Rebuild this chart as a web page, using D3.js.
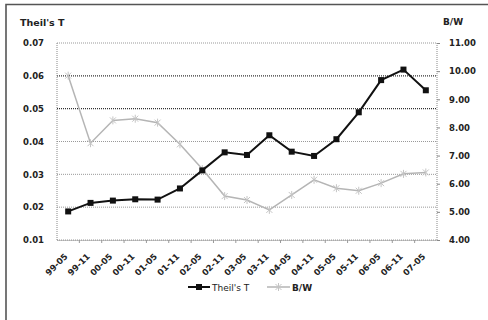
<!DOCTYPE html>
<html>
<head>
<meta charset="utf-8">
<script src="https://cdn.jsdelivr.net/npm/d3@7"></script>
<style>
  body { margin: 0; background: #fff; }
  svg { display: block; font-family: "DejaVu Sans", Verdana, sans-serif; }
</style>
</head>
<body>
<svg id="chart" width="488" height="320"></svg>
<script>
// Half-year periods
const periods = ["99-05","99-11","00-05","00-11","01-05","01-11","02-05","02-11","03-05",
                 "03-11","04-05","04-11","05-05","05-11","06-05","06-11","07-05"];
// Theil's T index (left axis)
const theilT = [0.0187, 0.0213, 0.0220, 0.0224, 0.0223, 0.0257, 0.0312, 0.0367, 0.0359,
                0.0419, 0.0369, 0.0356, 0.0407, 0.0489, 0.0587, 0.0619, 0.0556];
// B/W ratio (right axis)
const bwRatio = [9.84, 7.44, 8.25, 8.31, 8.17, 7.40, 6.52, 5.56, 5.42,
                 5.07, 5.60, 6.14, 5.84, 5.75, 6.02, 6.35, 6.40];
const leftTicks = [0.01, 0.02, 0.03, 0.04, 0.05, 0.06, 0.07];
const rightTicks = [4, 5, 6, 7, 8, 9, 10, 11];
const seriesNames = ["Theil's T", "B/W"];

const svg = d3.select("#chart");
const plot = { left: 57, right: 437, top: 43, bottom: 240 };

// outer frame (top and left edges)
svg.append("path")
  .attr("d", "M6,320 V4.5 H488")
  .attr("fill", "none").attr("stroke", "#555").attr("stroke-width", 1.6);

const x = d3.scaleBand().domain(periods).range([plot.left, plot.right]);
const yL = d3.scaleLinear().domain([0.01, 0.07]).range([plot.bottom, plot.top]);
const yR = d3.scaleLinear().domain([4, 11]).range([plot.bottom, plot.top]);

// horizontal gridlines
svg.append("g").selectAll("line").data(leftTicks).join("line")
  .attr("x1", plot.left).attr("x2", plot.right)
  .attr("y1", d => yL(d)).attr("y2", d => yL(d))
  .attr("stroke", d => (d === 0.05 || d === 0.06) ? "#333" : "#999")
  .attr("stroke-width", d => (d === 0.05 || d === 0.06) ? 1.2 : 1)
  .attr("stroke-dasharray", "1,1");

// plot area side edges
svg.append("g").selectAll("line").data([plot.left, plot.right]).join("line")
  .attr("x1", d => d).attr("x2", d => d)
  .attr("y1", plot.top).attr("y2", plot.bottom)
  .attr("stroke", "#888").attr("stroke-dasharray", "1,1");

// left axis
const leftAxis = svg.append("g")
  .attr("transform", `translate(${plot.left},0)`)
  .call(d3.axisLeft(yL).tickValues(leftTicks).tickFormat(d3.format(".2f")).tickSize(0).tickPadding(13));
leftAxis.select(".domain").remove();

// right axis
const rightAxis = svg.append("g")
  .attr("transform", `translate(${plot.right},0)`)
  .call(d3.axisRight(yR).tickValues(rightTicks).tickFormat(d3.format(".2f")).tickSize(3).tickPadding(9));
rightAxis.select(".domain").remove();
rightAxis.selectAll(".tick line").attr("stroke", "#888");

// bottom axis
const bottomAxis = svg.append("g")
  .attr("transform", `translate(0,${plot.bottom})`)
  .call(d3.axisBottom(x).tickSize(0).tickFormat(d => d));
bottomAxis.select(".domain").attr("stroke", "#888").attr("stroke-dasharray", "1,1");
bottomAxis.selectAll(".tick text")
  .attr("text-anchor", "end")
  .attr("dy", 0).attr("y", 0)
  .attr("transform", "translate(0,17) rotate(-45)");
// category separators on the bottom axis
svg.append("g").selectAll("line").data(periods.slice(1)).join("line")
  .attr("x1", d => x(d)).attr("x2", d => x(d))
  .attr("y1", plot.bottom).attr("y2", plot.bottom + 3)
  .attr("stroke", "#999");

svg.selectAll(".tick text")
  .attr("fill", "#222").attr("font-size", 8.5).attr("font-weight", "bold")
  .attr("font-family", "DejaVu Sans, Verdana, sans-serif");

// axis titles
svg.append("text").attr("x", 20).attr("y", 26).text("Theil's T")
  .attr("font-size", 9.5).attr("font-weight", "bold").attr("fill", "#222");
svg.append("text").attr("x", 443).attr("y", 25).text("B/W")
  .attr("font-size", 9).attr("font-weight", "bold").attr("fill", "#222");

const cx = d => x(d) + x.bandwidth() / 2;

// B/W series: light grey line with cross markers
svg.append("path")
  .datum(bwRatio)
  .attr("fill", "none").attr("stroke", "#b5b5b5").attr("stroke-width", 1.5)
  .attr("d", d3.line().x((d, i) => cx(periods[i])).y(d => yR(d)));
const cross = (px, py, r) => `M${px - r},${py - r}L${px + r},${py + r}M${px - r},${py + r}L${px + r},${py - r}M${px},${py - r - 1}V${py + r + 1}`;
svg.append("g").selectAll("path").data(bwRatio).join("path")
  .attr("d", (d, i) => cross(cx(periods[i]), yR(d), 3))
  .attr("stroke", "#c4c4c4").attr("stroke-width", 1).attr("fill", "none");

// Theil's T series: black line with square markers
svg.append("path")
  .datum(theilT)
  .attr("fill", "none").attr("stroke", "#111").attr("stroke-width", 2)
  .attr("d", d3.line().x((d, i) => cx(periods[i])).y(d => yL(d)));
svg.append("g").selectAll("rect").data(theilT).join("rect")
  .attr("x", (d, i) => cx(periods[i]) - 3).attr("y", d => yL(d) - 3)
  .attr("width", 6).attr("height", 6).attr("fill", "#111");

// legend
const legend = svg.append("g").attr("transform", "translate(188,287)");
legend.append("line").attr("x1", 0).attr("x2", 22).attr("stroke", "#111").attr("stroke-width", 2);
legend.append("rect").attr("x", 8).attr("y", -3).attr("width", 6).attr("height", 6).attr("fill", "#111");
legend.append("text").attr("x", 24).attr("y", 3.5).text(seriesNames[0])
  .attr("font-size", 9).attr("fill", "#222");
legend.append("line").attr("x1", 79).attr("x2", 102).attr("stroke", "#b5b5b5").attr("stroke-width", 1.5);
legend.append("path").attr("d", cross(90.5, 0, 3)).attr("stroke", "#c4c4c4").attr("fill", "none");
legend.append("text").attr("x", 104).attr("y", 3.5).text(seriesNames[1])
  .attr("font-size", 9).attr("font-weight", "bold").attr("fill", "#222");
</script>
</body>
</html>
